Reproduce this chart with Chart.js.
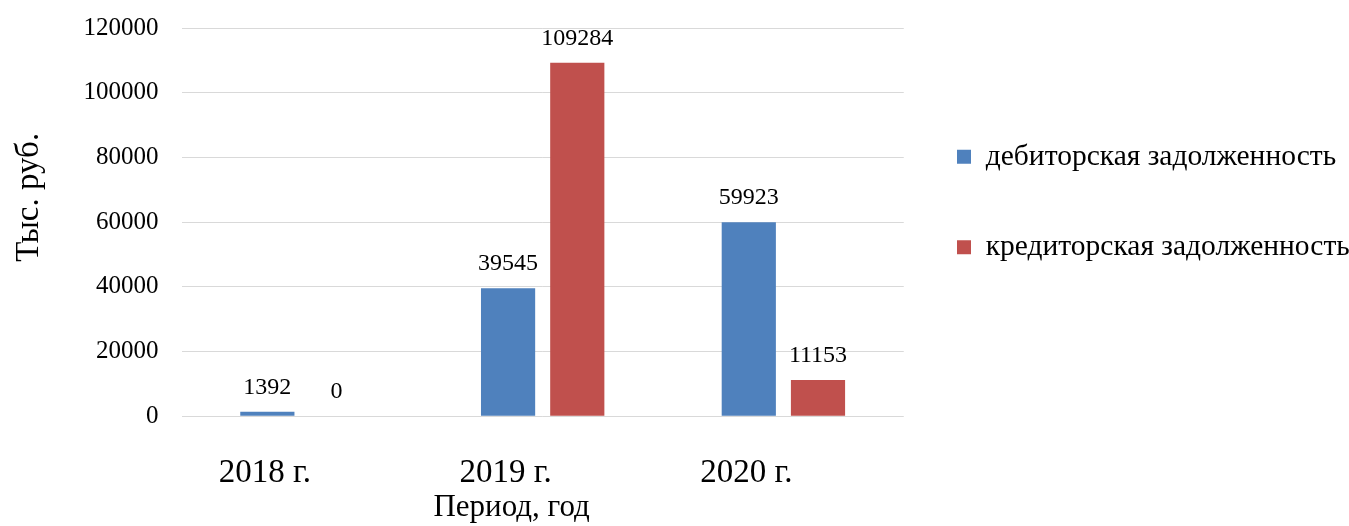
<!DOCTYPE html>
<html><head><meta charset="utf-8">
<script src="https://cdn.jsdelivr.net/npm/chart.js@4.4.0/dist/chart.umd.min.js"></script>
<style>html,body{margin:0;padding:0;background:#fff;} canvas{display:block;}</style>
</head><body>
<canvas id="c" width="1349" height="526"></canvas>
<script>
const categories = ['2018 г.', '2019 г.', '2020 г.'];
const seriesNames = ['дебиторская задолженность', 'кредиторская задолженность'];
const receivables = [1392, 39545, 59923];
const payables = [0, 109284, 11153];
const yTicks = [0, 20000, 40000, 60000, 80000, 100000, 120000];
const yAxisTitle = 'Тыс. руб.';
const xAxisTitle = 'Период, год';

const SERIF = '"Liberation Serif", "Times New Roman", serif';
const NB = '\u00a0';

const valueLabels = {
  id: 'valueLabels',
  afterDatasetsDraw(chart) {
    const ctx = chart.ctx;
    ctx.save();
    ctx.font = '24px ' + SERIF;
    ctx.fillStyle = '#000';
    ctx.textAlign = 'center';
    ctx.textBaseline = 'alphabetic';
    chart.data.datasets.forEach((ds, i) => {
      chart.getDatasetMeta(i).data.forEach((bar, j) => {
        ctx.fillText(String(ds.data[j]), bar.x, bar.y - 18);
      });
    });
    ctx.restore();
  }
};

const legendPlace = {
  id: 'legendPlace',
  afterLayout(chart) {
    const lg = chart.legend;
    if (!lg) return;
    lg.left = 896;
    lg.right = 1349;
    lg.width = 1349 - 896;
    lg.top = 81;
  }
};

new Chart(document.getElementById('c'), {
  type: 'bar',
  data: {
    labels: categories,
    datasets: [
      { label: seriesNames[0], data: receivables, backgroundColor: '#4F81BD', borderWidth: 0,
        barPercentage: 0.783, categoryPercentage: 0.575 },
      { label: seriesNames[1], data: payables, backgroundColor: '#C0504D', borderWidth: 0,
        barPercentage: 0.783, categoryPercentage: 0.575 }
    ]
  },
  options: {
    responsive: false,
    animation: false,
    devicePixelRatio: 1,
    layout: { padding: { top: 6, left: 0, right: 144, bottom: 0 } },
    plugins: {
      tooltip: { enabled: false },
      legend: {
        position: 'right',
        align: 'start',
        labels: {
          font: { family: SERIF, size: 29.5 },
          color: '#000',
          boxWidth: 14,
          boxHeight: 14,
          padding: 61
        }
      }
    },
    scales: {
      x: {
        grid: { display: false, drawTicks: false },
        border: { display: false },
        ticks: {
          font: { family: SERIF, size: 33 },
          color: '#000',
          padding: 37,
          labelOffset: -37,
          maxRotation: 0
        },
        title: {
          display: true,
          text: xAxisTitle + NB.repeat(8),
          font: { family: SERIF, size: 31 },
          color: '#000',
          padding: { top: -41, bottom: 0 }
        }
      },
      y: {
        min: yTicks[0],
        max: yTicks[yTicks.length - 1],
        afterBuildTicks(scale) { scale.ticks = yTicks.map(v => ({ value: v })); },
        grid: { color: '#D9D9D9', lineWidth: 1, drawTicks: false },
        border: { display: false },
        ticks: {
          font: { family: SERIF, size: 25, lineHeight: 0.4 },
          color: '#000',
          padding: 23,
          callback: v => String(v)
        },
        title: {
          display: true,
          text: NB.repeat(6) + yAxisTitle,
          font: { family: SERIF, size: 33 },
          color: '#000',
          padding: { top: 10, bottom: 11 }
        }
      }
    }
  },
  plugins: [valueLabels, legendPlace]
});
</script>
</body></html>
